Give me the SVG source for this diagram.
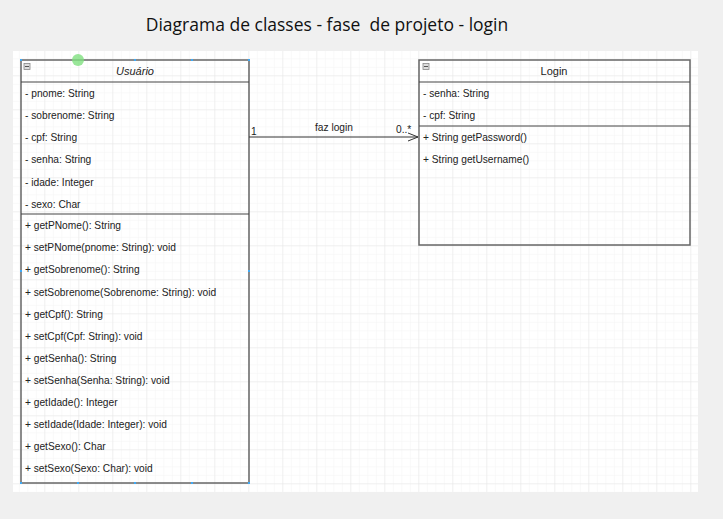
<svg xmlns="http://www.w3.org/2000/svg" width="723" height="519" viewBox="0 0 723 519">
<defs>
<pattern id="minor" x="11.3" y="8.3" width="8.5" height="8.5" patternUnits="userSpaceOnUse">
<path d="M8.5 0V8.5M0 8.5H8.5" fill="none" stroke="#f3f3f3" stroke-width="1"/>
</pattern>
<pattern id="major" x="11.3" y="8.3" width="34" height="34" patternUnits="userSpaceOnUse">
<path d="M34 0V34M0 34H34" fill="none" stroke="#e6e6e6" stroke-width="1"/>
</pattern>
<marker id="open" viewBox="0 0 10 10" refX="10" refY="5" markerWidth="10" markerHeight="10" markerUnits="userSpaceOnUse" orient="auto">
<path d="M0 1L10 5L0 9" fill="none" stroke="#333" stroke-width="1"/>
</marker>
<style>
.box{fill:none;stroke:#666;stroke-width:1.5}
.sep{stroke:#444;stroke-width:1.2}
.t{font-family:"Liberation Sans",Arial,sans-serif;font-size:10.2px;fill:#222}
.h{font-family:"Liberation Sans",Arial,sans-serif;font-size:11px;fill:#222;text-anchor:middle}
.ic{fill:#ddd;stroke:#888;stroke-width:0.8}
</style>
</defs>
<rect width="723" height="519" fill="#f0f0f0"/>
<rect x="13" y="51" width="685" height="441" fill="#fff"/>
<rect x="13" y="51" width="685" height="441" fill="url(#minor)"/>
<rect x="13" y="51" width="685" height="441" fill="url(#major)"/>
<text x="327" y="31" font-family="'Open Sans','Noto Sans',sans-serif" font-size="17.5" fill="#111" text-anchor="middle" xml:space="preserve" style="white-space:pre">Diagrama de classes - fase  de projeto - login</text>

<g id="usuario">
<rect class="box" x="21" y="60" width="228" height="423"/>
<line class="sep" x1="21" y1="82" x2="249" y2="82"/>
<line class="sep" x1="21" y1="214" x2="249" y2="214"/>
<rect class="ic" x="24" y="63.5" width="6" height="6"/>
<line x1="25" y1="66.5" x2="29" y2="66.5" stroke="#555" stroke-width="1"/>
<text class="h" x="135" y="75" font-style="italic">Usuário</text>
<text class="t" x="25" y="97">- pnome: String</text>
<text class="t" x="25" y="119">- sobrenome: String</text>
<text class="t" x="25" y="141">- cpf: String</text>
<text class="t" x="25" y="163">- senha: String</text>
<text class="t" x="25" y="186">- idade: Integer</text>
<text class="t" x="25" y="208">- sexo: Char</text>
<text class="t" x="25" y="229">+ getPNome(): String</text>
<text class="t" x="25" y="251">+ setPNome(pnome: String): void</text>
<text class="t" x="25" y="273">+ getSobrenome(): String</text>
<text class="t" x="25" y="296">+ setSobrenome(Sobrenome: String): void</text>
<text class="t" x="25" y="318">+ getCpf(): String</text>
<text class="t" x="25" y="340">+ setCpf(Cpf: String): void</text>
<text class="t" x="25" y="362">+ getSenha(): String</text>
<text class="t" x="25" y="384">+ setSenha(Senha: String): void</text>
<text class="t" x="25" y="406">+ getIdade(): Integer</text>
<text class="t" x="25" y="428">+ setIdade(Idade: Integer): void</text>
<text class="t" x="25" y="450">+ getSexo(): Char</text>
<text class="t" x="25" y="472">+ setSexo(Sexo: Char): void</text>
</g>

<g id="login">
<rect class="box" x="419" y="60" width="271" height="185"/>
<line class="sep" x1="419" y1="82" x2="690" y2="82"/>
<line class="sep" x1="419" y1="126" x2="690" y2="126"/>
<rect class="ic" x="423" y="63.5" width="6" height="6"/>
<line x1="424" y1="66.5" x2="428" y2="66.5" stroke="#555" stroke-width="1"/>
<text class="h" x="554" y="75">Login</text>
<text class="t" x="423" y="97">- senha: String</text>
<text class="t" x="423" y="119">- cpf: String</text>
<text class="t" x="423" y="141">+ String getPassword()</text>
<text class="t" x="423" y="163">+ String getUsername()</text>
</g>

<g id="connectors">
<line x1="249" y1="137" x2="418" y2="137" stroke="#333" stroke-width="1" marker-end="url(#open)"/>
<text class="t" x="251" y="135">1</text>
<text class="t" x="334" y="131" text-anchor="middle">faz login</text>
<text class="t" x="396" y="133">0..*</text>
</g>

<g id="handles" fill="#3fa9f5">
<circle cx="78" cy="60" r="6" fill="#7fe07f" fill-opacity="0.8"/>
<rect x="20" y="59" width="2" height="2"/>
<rect x="134" y="59" width="2" height="2"/>
<rect x="191" y="59" width="2" height="2"/>
<rect x="248" y="59" width="2" height="2"/>
<rect x="20" y="270" width="2" height="2"/>
<rect x="248" y="270" width="2" height="2"/>
<rect x="20" y="482" width="2" height="2"/>
<rect x="77" y="482" width="2" height="2"/>
<rect x="134" y="482" width="2" height="2"/>
<rect x="191" y="482" width="2" height="2"/>
<rect x="248" y="482" width="2" height="2"/>
</g>
</svg>
